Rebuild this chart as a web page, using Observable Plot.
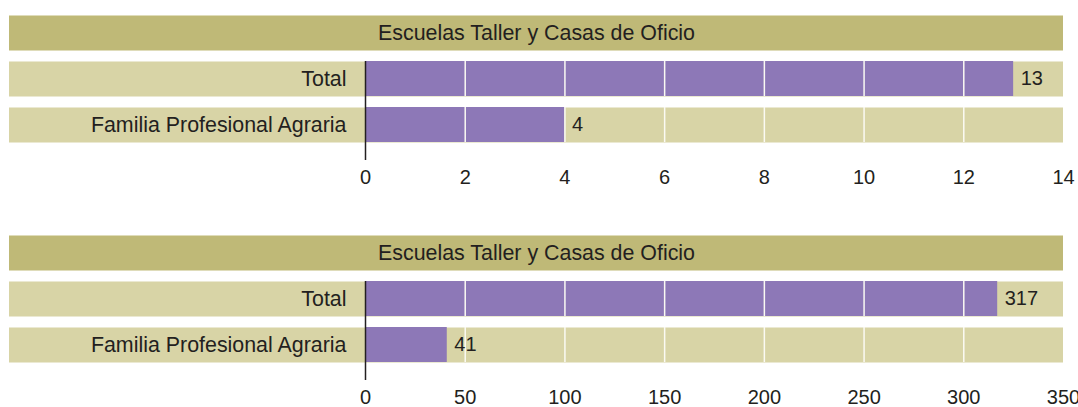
<!DOCTYPE html>
<html><head><meta charset="utf-8">
<script src="https://cdn.jsdelivr.net/npm/d3@7"></script>
<script src="https://cdn.jsdelivr.net/npm/@observablehq/plot@0.6"></script>
<style>body{margin:0;background:#fff} #chart svg{display:block}</style>
</head><body><div id="chart"></div>
<script>
const header = "Escuelas Taller y Casas de Oficio";
const categories = ["Total", "Familia Profesional Agraria"];
const valuesCount = [13, 4];
const valuesPersons = [317, 41];
const ticksCount = [0, 2, 4, 6, 8, 10, 12, 14];
const ticksPersons = [0, 50, 100, 150, 200, 250, 300, 350];

const ink = "#231f20";
function panel(values, ticks, height) {
  const rows = categories.map((c, i) => ({category: c, value: values[i]}));
  const gridData = ticks.slice(1, -1).flatMap(t => categories.map(c => ({t, category: c})));
  return Plot.plot({
    width: 1078, height,
    marginLeft: 9, marginRight: 15, marginTop: 61, marginBottom: height - 160,
    x: {domain: [ticks[0], ticks[ticks.length - 1]], range: [365, 1063]},
    y: {domain: [header, ...categories], range: [14, 142], paddingInner: 0.247, paddingOuter: 0, axis: null},
    style: {fontFamily: "'Liberation Sans', Arial, sans-serif", color: ink, background: "transparent"},
    marks: [
      Plot.tickY([header], {y: d => d, stroke: "#bfb977", strokeWidth: 35}),
      Plot.tickY(categories, {y: d => d, stroke: "#d8d4a6", strokeWidth: 35}),
      Plot.barX(rows, {x: "value", y: "category", fill: "#8d78b7"}),
      Plot.tickX(gridData, {x: "t", y: "category", stroke: "#fbfaf3", strokeWidth: 1.5}),
      Plot.ruleX([0], {stroke: ink, strokeWidth: 1.5}),
      Plot.text([header], {y: d => d, text: d => d, fontSize: 21.4, fill: ink}),
      Plot.text(rows, {x: 0, y: "category", text: "category", textAnchor: "end", dx: -19, fontSize: 21.4, fill: ink}),
      Plot.text(rows, {x: "value", y: "category", text: d => String(d.value), textAnchor: "start", dx: 7, fontSize: 20, fill: ink}),
      Plot.axisX({ticks, tickSize: 0, tickPadding: 9, fontSize: 20, tickFormat: d => String(d)})
    ]
  });
}
const root = document.getElementById("chart");
root.append(panel(valuesCount, ticksCount, 220));
root.append(panel(valuesPersons, ticksPersons, 187));
</script>
</body></html>
